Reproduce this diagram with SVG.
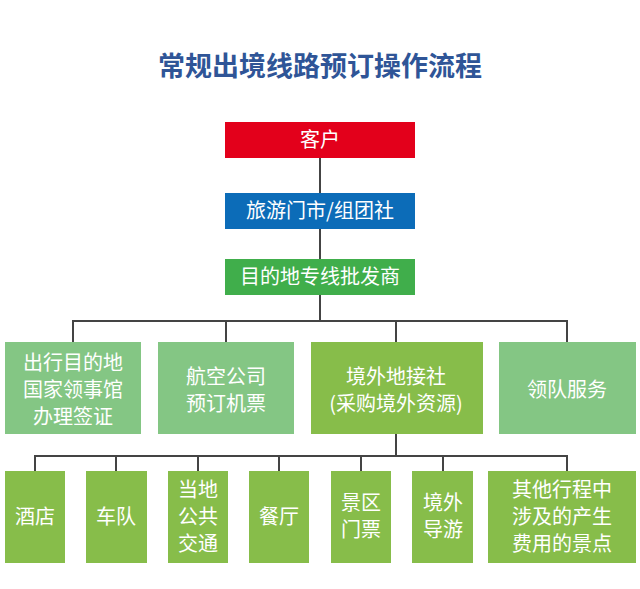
<svg xmlns="http://www.w3.org/2000/svg" width="640" height="589" viewBox="0 0 640 589">
<style>
text{font-family:"Noto Sans CJK SC","Noto Sans",sans-serif;fill:#fff;text-anchor:middle;font-size:20px}
.t{fill:#2f5597;font-weight:bold;font-size:27px}
.c line{stroke:#444;stroke-width:2}
.lg{fill:#84c684}.mg{fill:#87bd4a}
</style>
<rect width="640" height="589" fill="#fff"/>
<text class="t" x="320" y="76">常规出境线路预订操作流程</text>
<g class="c">
<line x1="320" y1="158" x2="320" y2="321"/>
<line x1="72" y1="321" x2="568" y2="321"/>
<line x1="73" y1="321" x2="73" y2="342"/>
<line x1="226" y1="321" x2="226" y2="342"/>
<line x1="396" y1="321" x2="396" y2="342"/>
<line x1="567" y1="321" x2="567" y2="342"/>
<line x1="396" y1="434" x2="396" y2="456"/>
<line x1="34" y1="456" x2="568" y2="456"/>
<line x1="35" y1="456" x2="35" y2="471"/>
<line x1="116" y1="456" x2="116" y2="471"/>
<line x1="198" y1="456" x2="198" y2="471"/>
<line x1="279" y1="456" x2="279" y2="471"/>
<line x1="361" y1="456" x2="361" y2="471"/>
<line x1="443" y1="456" x2="443" y2="471"/>
<line x1="567" y1="456" x2="567" y2="471"/>
</g>
<g id="n1"><rect x="225" y="122" width="190" height="36" fill="#e3001b"/><text x="320" y="147">客户</text></g>
<g id="n2"><rect x="225" y="193" width="190" height="36" fill="#0c6cb8"/><text x="320" y="218">旅游门市/组团社</text></g>
<g id="n3"><rect x="225" y="259" width="190" height="36" fill="#40ae4b"/><text x="320" y="284">目的地专线批发商</text></g>
<g id="n4"><rect class="lg" x="5" y="342" width="136" height="92"/><text x="73" y="370">出行目的地</text><text x="73" y="397">国家领事馆</text><text x="73" y="424">办理签证</text></g>
<g id="n5"><rect class="lg" x="158" y="342" width="136" height="92"/><text x="226" y="384">航空公司</text><text x="226" y="411">预订机票</text></g>
<g id="n6"><rect class="mg" x="311" y="342" width="172" height="92"/><text x="396" y="384">境外地接社</text><text x="396" y="411">(采购境外资源)</text></g>
<g id="n7"><rect class="lg" x="499" y="342" width="137" height="92"/><text x="567" y="397">领队服务</text></g>
<g id="n8"><rect class="mg" x="5" y="471" width="60" height="92"/><text x="35" y="524">酒店</text></g>
<g id="n9"><rect class="mg" x="86" y="471" width="61" height="92"/><text x="116" y="524">车队</text></g>
<g id="n10"><rect class="mg" x="168" y="471" width="60" height="92"/><text x="198" y="497">当地</text><text x="198" y="524">公共</text><text x="198" y="551">交通</text></g>
<g id="n11"><rect class="mg" x="249" y="471" width="60" height="92"/><text x="279" y="524">餐厅</text></g>
<g id="n12"><rect class="mg" x="331" y="471" width="60" height="92"/><text x="361" y="510">景区</text><text x="361" y="537">门票</text></g>
<g id="n13"><rect class="mg" x="412" y="471" width="61" height="92"/><text x="443" y="510">境外</text><text x="443" y="537">导游</text></g>
<g id="n14"><rect class="mg" x="488" y="471" width="148" height="92"/><text x="562" y="497">其他行程中</text><text x="562" y="524">涉及的产生</text><text x="562" y="551">费用的景点</text></g>
</svg>
